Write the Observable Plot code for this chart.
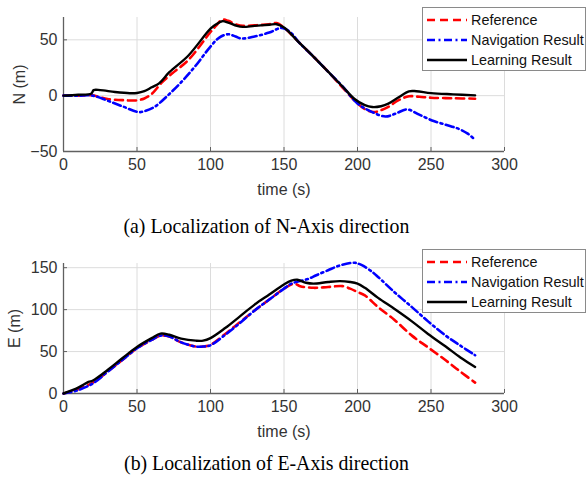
<!DOCTYPE html>
<html>
<head>
<meta charset="utf-8">
<script src="https://cdn.jsdelivr.net/npm/d3@7"></script>
<script src="https://cdn.jsdelivr.net/npm/@observablehq/plot@0.6"></script>
<style>
  html, body { margin: 0; padding: 0; background: #fff; }
  #wrap { position: relative; width: 587px; height: 481px; overflow: hidden; background: #fff; }
  .chart { position: absolute; left: 0; }
  .caption { position: absolute; left: 0; width: 533px; text-align: center;
    font-family: "Liberation Serif", "Times New Roman", serif; font-size: 22px; color: #000; line-height: 1; white-space: nowrap;
    transform: scaleX(0.9); transform-origin: 266px 50%; }
  .legend { position: absolute; left: 422px; width: 164px; background: #fff; border: 1px solid #8a8a8a;
    font-family: "Liberation Sans", Arial, sans-serif; font-size: 14.4px; color: #111; box-sizing: border-box; padding: 2px 0 0 3px; }
  .legend .row { display: flex; align-items: center; height: 20px; white-space: nowrap; }
  .legend svg { margin-right: 3px; flex: none; }
</style>
</head>
<body>
<div id="wrap"></div>
<script>
// ---------- data ----------
const xTicks = [0, 50, 100, 150, 200, 250, 300];
const nTicks = [-50, 0, 50];
const eTicks = [0, 50, 100, 150];
const seriesNames = ["Reference", "Navigation Result", "Learning Result"];

// N-axis (top panel)
const nRefT = [0,10,20,25,30,40,50,55,60,67,74,85,100,104,108,112,118,122,130,140,145,150,160,170,180,190,200,205,211,216,221,228,235,242,250,265,280];
const nRefV = [0,0,0.3,-1.5,-3,-4,-4.2,-2.5,1.5,12,20,32,57,63,68,67,63.5,62.5,63,64,65,61,48,35,21.5,7,-7,-12,-14.7,-13,-10,-4,-0.6,-1,-1.8,-2.3,-2.7];
const nNavT = [0,10,20,30,40,51,56,62,70,80,90,100,106,112,117,121,130,140,148.6,155,160,170,180,190,200,210,219,226,233.7,242,250.7,260,268.8,275,280];
const nNavV = [0,0,0,-4.5,-9.5,-14.7,-13.5,-10,-1,12,27,44,52,55,53,51.2,53,56.5,60.7,56,48,35,21.5,8,-7,-14.7,-18.6,-16,-12.3,-17,-22.2,-26,-29.7,-34,-39.5];
const nLrnT = [0,10,19,20.5,25,35,45,50,55,60,65,72,85,100,104,108,112,118,122,130,140,145,150,160,170,180,190,198,205,210,216,221,228,235,240,250,265,280];
const nLrnV = [0,0.8,2,5,5,3.3,2.2,2.4,4,7.5,11,21,36,60,64,66.7,65.5,62.5,61.6,62.5,63.5,64,61,48,35,21.5,8,-3,-8.5,-10.2,-9.5,-7.2,-1.5,3.9,4,2.3,1.2,0.3];

// E-axis (bottom panel)
const eRefT = [0,10,20,30,40,50,60,66,72,80,90,95,100,110,120,130,140,150,157,161,170,180,190,195,200,205,214,225,237,248,260,270,280];
const eRefV = [0,5,13,26,40,54,64,69,68,61,56,56,58,71,85,99,112,125,131,128,126,127,128,125,121,117,103,88,69,55,39.6,26,13];
const eNavT = [0,10,20,30,40,50,60,66,72,80,90,95,100,110,120,130,140,150,155,161,167,172,180,188,195,198.5,203,210,214,225,237,248,260,270,280];
const eNavV = [0,4,12,26,40,54,64,69,68,61,56,56,57.5,70,84,99,112,125,131,134,137,141,147,152.7,155.5,155.8,153,145,139,121,103,86,69,57,45.6];
const eLrnT = [0,10,17,20,30,40,50,60,66,72,80,90,95,100,110,120,130,140,150,155,159,165,170,180,188,195,200,205,214,225,237,248,260,270,280];
const eLrnV = [0,7,13.8,15.5,28,42,55.5,66,71.4,70,65.5,63,63,66,78,92,106,118,130,134.5,135.7,132,131,133,134,133,131,126,114,101,86,71,56,43,31.7];

// ---------- styles ----------
const styles = {
  "Reference": { stroke: "#ff0000", dash: "8,5", width: 2.6 },
  "Navigation Result": { stroke: "#0000ff", dash: "8,3.5,2,3.5", width: 2.6 },
  "Learning Result": { stroke: "#000000", dash: null, width: 2.4 }
};

function rows(ts, vs) { return ts.map((t, i) => ({ t, v: vs[i] })); }

function makeChart({ data, yDomain, yTicks, yLabel, height, plotH, yLabelOffset }) {
  const lineMarks = seriesNames.map(name => Plot.line(data[name], {
    x: "t", y: "v", stroke: styles[name].stroke, strokeWidth: styles[name].width,
    strokeDasharray: styles[name].dash || undefined, curve: "catmull-rom"
  }));
  return Plot.plot({
    width: 587, height,
    marginLeft: 63, marginRight: 83, marginTop: 17, marginBottom: height - 17 - plotH,
    style: { fontFamily: "'Liberation Sans', Arial, sans-serif", fontSize: "16px", color: "#333", background: "transparent", overflow: "visible" },
    x: { domain: [0, 300] },
    y: { domain: yDomain },
    marks: [
      Plot.gridX(xTicks, { stroke: "#dcdcdc", strokeOpacity: 1 }),
      Plot.gridY(yTicks, { stroke: "#dcdcdc", strokeOpacity: 1 }),
      Plot.ruleY([yDomain[0]], { stroke: "#606060", strokeWidth: 1.3 }),
      Plot.ruleX([0], { stroke: "#606060", strokeWidth: 1.3 }),
      Plot.axisX(xTicks, { tickSize: -4, tickPadding: 11, stroke: "#606060", fontSize: 16, label: "time (s)", labelAnchor: "center", labelArrow: "none", labelOffset: 43 }),
      Plot.axisY(yTicks, { tickSize: -4, tickPadding: 10, stroke: "#606060", fontSize: 16, label: yLabel, labelAnchor: "center", labelArrow: "none", labelOffset: yLabelOffset }),
      ...lineMarks
    ]
  });
}

const wrap = document.getElementById("wrap");

const chartN = makeChart({
  data: {
    "Reference": rows(nRefT, nRefV),
    "Navigation Result": rows(nNavT, nNavV),
    "Learning Result": rows(nLrnT, nLrnV)
  },
  yDomain: [-50, 70], yTicks: nTicks, yLabel: "N (m)", height: 205, plotH: 134, yLabelOffset: 50
});
chartN.classList.add("chart"); chartN.style.top = "0px";
wrap.appendChild(chartN);

const chartE = makeChart({
  data: {
    "Reference": rows(eRefT, eRefV),
    "Navigation Result": rows(eNavT, eNavV),
    "Learning Result": rows(eLrnT, eLrnV)
  },
  yDomain: [0, 155], yTicks: eTicks, yLabel: "E (m)", height: 201, plotH: 130, yLabelOffset: 55
});
chartE.classList.add("chart"); chartE.style.top = "246px";
wrap.appendChild(chartE);

function caption(text, topPx) {
  const d = document.createElement("div");
  d.className = "caption"; d.textContent = text; d.style.top = topPx + "px";
  wrap.appendChild(d);
}
caption("(a) Localization of N-Axis direction", 215);
caption("(b) Localization of E-Axis direction", 452);

function legend(topPx) {
  const d = document.createElement("div");
  d.className = "legend"; d.style.top = topPx + "px"; d.style.height = "64px";
  for (const name of seriesNames) {
    const r = document.createElement("div"); r.className = "row";
    const s = styles[name];
    r.innerHTML = `<svg width="42" height="12"><line x1="1" y1="6" x2="41" y2="6" stroke="${s.stroke}" stroke-width="${s.width}" ${s.dash ? `stroke-dasharray="${s.dash}"` : ""}/></svg><span>${name}</span>`;
    d.appendChild(r);
  }
  wrap.appendChild(d);
}
legend(7);
legend(249);
</script>
</body>
</html>
